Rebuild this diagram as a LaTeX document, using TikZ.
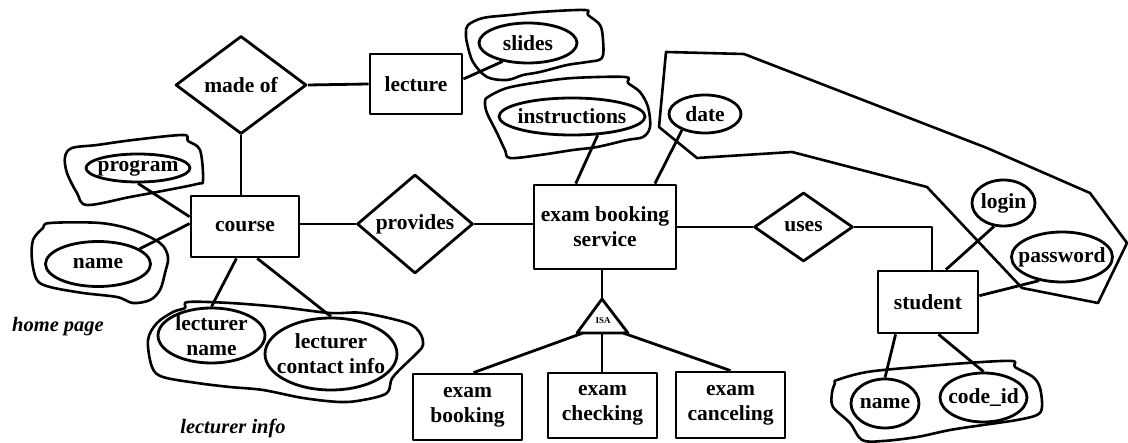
\documentclass[tikz,border=0pt]{standalone}
\usepackage{fontspec}
\setmainfont{Liberation Serif}
\usetikzlibrary{shapes.geometric}
\begin{document}
\begin{tikzpicture}[x=1pt,y=-1pt,line width=2.8pt,line join=round,
  every node/.style={font=\bfseries\fontsize{21.5}{25}\selectfont,align=center},
  ent/.style 2 args={draw,rectangle,inner sep=0pt,minimum width=#1,minimum height=#2},
  rel/.style 2 args={draw,diamond,inner sep=0pt,minimum width=#1,minimum height=#2},
  attr/.style 2 args={draw,ellipse,inner xsep=-40pt,inner ysep=-30pt,minimum width=#1,minimum height=#2},
  note/.style={font=\bfseries\itshape\fontsize{20.5}{24}\selectfont},
  blob/.style={line width=2.6pt},
  group/.style={smooth cycle,tension=0.55}]
\useasboundingbox (0,0) rectangle (1128,443);

% entities and relationships
\node[rel={131}{98}] (madeof) at (241,85) {made of};
\node[ent={92}{60}] (lecture) at (416,84) {lecture};
\node[ent={108}{61}] (course) at (245,226.5) {course};
\node[rel={116}{99}] (provides) at (415,224) {provides};
\node[ent={142}{84}] (ebs) at (605,227) {exam booking\\service};
\node[rel={99}{69}] (uses) at (803.5,227) {uses};
\node[ent={100}{62}] (student) at (928,302) {student};
\node[ent={109}{66}] (booking) at (467.5,407) {exam\\booking};
\node[ent={109}{65}] (checking) at (602.5,405.5) {exam\\checking};
\node[ent={109}{66}] (canceling) at (730.5,405) {exam\\canceling};

% attributes
\node[attr={104}{28}] (program) at (138,168) {program};
\node[attr={105}{45}] (cname) at (98,264) {name};
\node[attr={107}{55}] (lname) at (211.5,335.5) {lecturer\\name};
\node[attr={132}{72}] (lcontact) at (331,354) {lecturer\\contact info};
\node[attr={98}{40}] (slides) at (528,43) {slides};
\node[attr={146}{37}] (instr) at (572,116.5) {instructions};
\node[attr={72}{38}] (date) at (705,114) {date};
\node[attr={63}{46}] (login) at (1003.5,203) {login};
\node[attr={101}{50}] (password) at (1062,257) {password};
\node[attr={68}{49}] (sname) at (885,403.5) {name};
\node[attr={87}{49}] (codeid) at (983.5,397.5) {code\_id};

% ISA triangle
\coordinate (isatop) at (602,299);
\coordinate (isal) at (577,333);
\coordinate (isar) at (628,333);
\draw (isatop) -- (isal) -- (isar) -- cycle;
\node[font=\bfseries\fontsize{9}{10}\selectfont] (isa) at (603,321) {ISA};
\coordinate (isab1) at (583,333);
\coordinate (isab2) at (602,333);
\coordinate (isab3) at (623,333);

% group labels
\node[note] (homepage) at (58,327) {home page};
\node[note] (lectinfo) at (233,428) {lecturer info};

% connectors
\draw (madeof.east) -- (lecture.west);
\draw (madeof.south) -- (madeof.south |- course.north);
\draw (provides.west) -- (provides.west -| course.east);
\draw (provides.east) -- (provides.east -| ebs.west);
\draw (ebs.east) -- (uses.west);
\draw (uses.east) -| ([xshift=4pt]student.north);
\draw (program.south) -- (course.170);
\draw (cname.20) -- (course.177);
\draw (course.255) -- (lname.north);
\draw (course.291) -- (lcontact.north);
\draw (lecture.6) -- (slides.216);
\draw (instr.-36) -- (ebs.124);
\draw (date.215) -- (ebs.41);
\draw (login.248) -- (student.61);
\draw (password.226) -- (student.7);
\draw (student.225) -- (sname.north);
\draw (student.288) -- (codeid.north);
\draw (isatop |- ebs.south) -- (isatop);
\draw (isab1) -- (booking.80);
\draw (isab2) -- (isab2 |- checking.north);
\draw (isab3) -- (canceling.north);

% hand-drawn groupings
\draw[blob] plot[group] coordinates {(65,157) (72,148) (97,145) (133,140) (183,135) (188,141) (200,150) (203,180) (197,184) (157,192) (130,197) (87,205) (77,193) (67,173)};
\draw[blob] plot[group] coordinates {(50,223) (100,223) (133,230) (160,243) (168,257) (165,273) (160,290) (150,300) (133,303) (117,297) (83,293) (50,287) (37,280) (32,260) (33,240) (43,228)};
\draw[blob] plot[group] coordinates {(188,302) (230,303) (280,307) (330,313) (363,313) (407,323) (420,333) (423,345) (417,353) (393,377) (387,393) (363,400) (340,402) (303,398) (263,390) (230,387) (197,383) (163,377) (152,367) (148,340) (157,323) (173,312) (185,308)};
\draw[blob] plot[group] coordinates {(468,25) (483,18) (510,15) (540,12) (585,10) (588,15) (600,25) (603,40) (602,58) (587,62) (567,65) (540,72) (523,75) (507,80) (487,77) (473,62) (467,43) (466,33)};
\draw[blob] plot[group] coordinates {(488,97) (507,88) (540,82) (573,78) (625,77) (628,83) (640,92) (648,107) (650,127) (643,137) (627,140) (597,147) (573,150) (540,155) (510,158) (505,150) (497,133) (487,113) (485,102)};
\draw[blob] plot[group] coordinates {(837,380) (867,372) (917,367) (967,363) (1012,361) (1015,367) (1033,377) (1040,388) (1042,407) (1037,415) (1017,420) (983,425) (950,430) (917,437) (883,441) (862,440) (850,423) (833,407) (832,393) (835,383)};
\draw[blob] (666,52) -- (744,54) -- (987,148) -- (1090,193) -- (1127,243) -- (1098,303) -- (1022,288) -- (927,187) -- (792,152) -- (697,158) -- (659,127) -- cycle;
\end{tikzpicture}
\end{document}
